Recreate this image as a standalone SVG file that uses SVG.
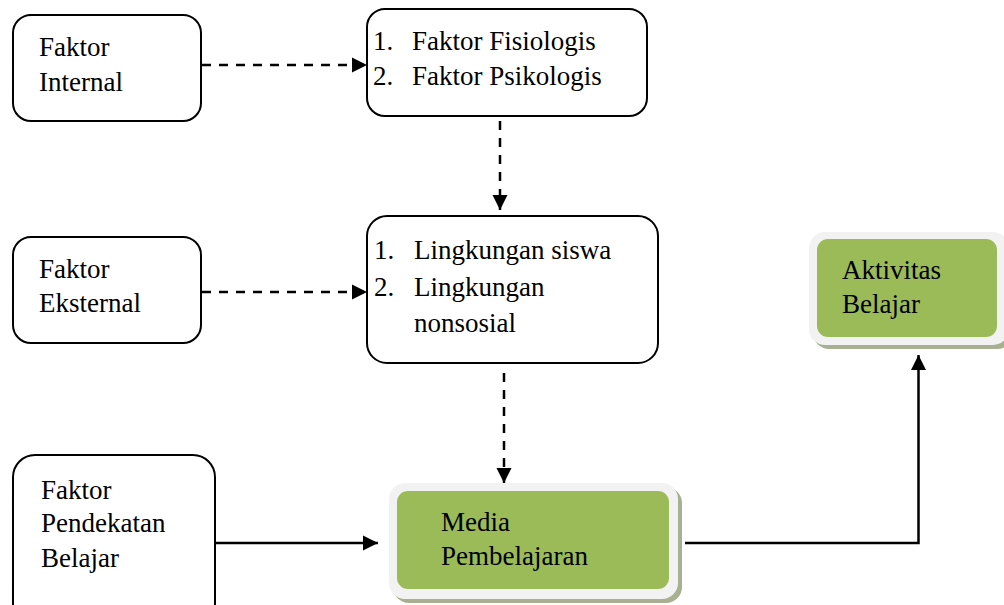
<svg xmlns="http://www.w3.org/2000/svg" width="1004" height="605" viewBox="0 0 1004 605">
<style>
text{font-family:'Liberation Serif','Times New Roman',serif !important;font-size:27px}
.box{fill:#fff;stroke:#000;stroke-width:2}
.frame{fill:#f2f2f2}
.shadow{fill:#a7b192}
.green{fill:#9bbb59}
.dash{fill:none;stroke:#000;stroke-width:2.5;stroke-dasharray:9 8}
.solid{fill:none;stroke:#000;stroke-width:2.5}
</style>
<defs>
<marker id="ah" markerWidth="16" markerHeight="16" refX="15" refY="8" orient="auto" markerUnits="userSpaceOnUse">
<path d="M0,0.5 L15,8 L0,15.5 Z" fill="#000"/>
</marker>
</defs>
<g id="connectors">
<line class="dash" x1="202" y1="65" x2="367" y2="65" marker-end="url(#ah)"/>
<line class="dash" x1="500" y1="121" x2="500" y2="210" marker-end="url(#ah)"/>
<line class="dash" x1="202" y1="292" x2="367" y2="292" marker-end="url(#ah)"/>
<line class="dash" x1="504" y1="373" x2="504" y2="483" marker-end="url(#ah)"/>
<line class="solid" x1="215" y1="543" x2="378" y2="543" marker-end="url(#ah)"/>
<polyline class="solid" points="685,543 918.5,543 918.5,355" marker-end="url(#ah)"/>
</g>
<g id="faktor-internal">
<rect class="box" x="13" y="15" width="188" height="106" rx="18"/>
<text x="39" y="56" font-family="Liberation Serif" style="font-family:'Liberation Serif',serif !important">Faktor</text>
<text x="39" y="91" font-family="Liberation Serif" style="font-family:'Liberation Serif',serif !important">Internal</text>
</g>
<g id="faktor-list-1">
<rect class="box" x="367" y="9" width="280" height="107" rx="18"/>
<text x="373" y="50" font-family="Liberation Serif" style="font-family:'Liberation Serif',serif !important">1.</text>
<text x="412" y="50" font-family="Liberation Serif" style="font-family:'Liberation Serif',serif !important">Faktor Fisiologis</text>
<text x="373" y="85" font-family="Liberation Serif" style="font-family:'Liberation Serif',serif !important">2.</text>
<text x="412" y="85" font-family="Liberation Serif" style="font-family:'Liberation Serif',serif !important">Faktor Psikologis</text>
</g>
<g id="faktor-eksternal">
<rect class="box" x="13" y="237" width="188" height="106" rx="18"/>
<text x="39" y="278" font-family="Liberation Serif" style="font-family:'Liberation Serif',serif !important">Faktor</text>
<text x="39" y="312" font-family="Liberation Serif" style="font-family:'Liberation Serif',serif !important">Eksternal</text>
</g>
<g id="faktor-list-2">
<rect class="box" x="367" y="216" width="291" height="147" rx="20"/>
<text x="374" y="259" font-family="Liberation Serif" style="font-family:'Liberation Serif',serif !important">1.</text>
<text x="414" y="259" font-family="Liberation Serif" style="font-family:'Liberation Serif',serif !important">Lingkungan siswa</text>
<text x="374" y="296" font-family="Liberation Serif" style="font-family:'Liberation Serif',serif !important">2.</text>
<text x="414" y="296" font-family="Liberation Serif" style="font-family:'Liberation Serif',serif !important">Lingkungan</text>
<text x="414" y="332" font-family="Liberation Serif" style="font-family:'Liberation Serif',serif !important">nonsosial</text>
</g>
<g id="faktor-pendekatan">
<rect class="box" x="13" y="455" width="202" height="170" rx="22"/>
<text x="41" y="499" font-family="Liberation Serif" style="font-family:'Liberation Serif',serif !important">Faktor</text>
<text x="41" y="532" font-family="Liberation Serif" style="font-family:'Liberation Serif',serif !important">Pendekatan</text>
<text x="41" y="567" font-family="Liberation Serif" style="font-family:'Liberation Serif',serif !important">Belajar</text>
</g>
<g id="media-pembelajaran">
<rect class="shadow" x="393" y="487" width="289" height="116" rx="16"/>
<rect class="frame" x="389" y="483" width="289" height="116" rx="16"/>
<rect class="green" x="397" y="491" width="272" height="98" rx="11"/>
<text x="441" y="531" font-family="Liberation Serif" style="font-family:'Liberation Serif',serif !important">Media</text>
<text x="441" y="565" font-family="Liberation Serif" style="font-family:'Liberation Serif',serif !important">Pembelajaran</text>
</g>
<g id="aktivitas-belajar">
<rect class="shadow" x="813" y="236" width="200" height="113" rx="16"/>
<rect class="frame" x="809" y="232" width="200" height="113" rx="16"/>
<rect class="green" x="817" y="239" width="180" height="98" rx="11"/>
<text x="842" y="279" font-family="Liberation Serif" style="font-family:'Liberation Serif',serif !important">Aktivitas</text>
<text x="842" y="313" font-family="Liberation Serif" style="font-family:'Liberation Serif',serif !important">Belajar</text>
</g>
</svg>
